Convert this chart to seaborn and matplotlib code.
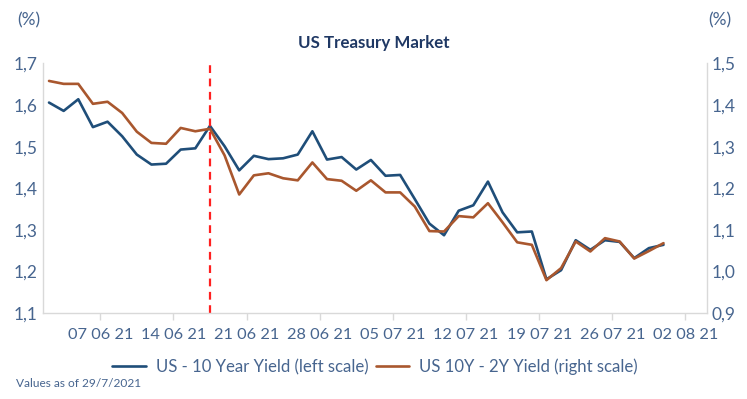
import matplotlib
matplotlib.use("Agg")
import matplotlib.pyplot as plt
import seaborn as sns
import pandas as pd
from matplotlib.ticker import FuncFormatter, FixedLocator

# ---- data (business days 01/06/2021 .. 29/07/2021) ----
ten_year = [1.606, 1.586, 1.614, 1.547, 1.560, 1.525, 1.481, 1.457, 1.459, 1.493,
            1.496, 1.550, 1.501, 1.443, 1.478, 1.470, 1.472, 1.481, 1.537, 1.469,
            1.475, 1.445, 1.468, 1.430, 1.432, 1.374, 1.315, 1.287, 1.346, 1.359,
            1.416, 1.342, 1.294, 1.296, 1.181, 1.203, 1.275, 1.252, 1.275, 1.271,
            1.232, 1.256, 1.264]
spread_10y2y = [1.458, 1.451, 1.451, 1.403, 1.408, 1.381, 1.336, 1.309, 1.307, 1.345,
                1.337, 1.343, 1.279, 1.185, 1.231, 1.236, 1.224, 1.219, 1.262, 1.222,
                1.218, 1.194, 1.219, 1.190, 1.190, 1.156, 1.097, 1.096, 1.133, 1.130,
                1.164, 1.118, 1.070, 1.064, 0.979, 1.008, 1.072, 1.048, 1.080, 1.072,
                1.031, 1.049, 1.068]
week_labels = ["07 06 21", "14 06 21", "21 06 21", "28 06 21", "05 07 21",
               "12 07 21", "19 07 21", "26 07 21", "02 08 21"]
fomc_index = 11  # 16/06/2021

label_10y = "US - 10 Year Yield (left scale)"
label_spread = "US 10Y - 2Y Yield (right scale)"

df = pd.DataFrame({"day": range(len(ten_year)),
                   "ten": ten_year, "spread": spread_10y2y})

# ---- style ----
sns.set_theme(style="white")
plt.rcParams["font.family"] = ["Lato", "DejaVu Sans"]

blue = "#1F4E79"
brown = "#A9572E"
tick_col = "#47658F"
spine_col = "#D9D9D9"

fig = plt.figure(figsize=(7.47, 3.99), dpi=100)
ax = fig.add_axes([0.0572, 0.2155, 0.8888, 0.6254])
ax2 = ax.twinx()

sns.lineplot(data=df, x="day", y="ten", ax=ax, color=blue, linewidth=1.9,
             label=label_10y, legend=False)
sns.lineplot(data=df, x="day", y="spread", ax=ax2, color=brown, linewidth=1.9,
             label=label_spread, legend=False)

ax.axvline(fomc_index, color="#FF2020", linestyle=(0, (3.5, 2.5)), linewidth=1.6)

ax.set_xlim(-0.43, 44.95)
ax.set_ylim(1.1, 1.7)
ax2.set_ylim(0.9, 1.5)

comma = FuncFormatter(lambda v, p: f"{v:.1f}".replace(".", ","))
ax.yaxis.set_major_locator(FixedLocator([1.1, 1.2, 1.3, 1.4, 1.5, 1.6, 1.7]))
ax2.yaxis.set_major_locator(FixedLocator([0.9, 1.0, 1.1, 1.2, 1.3, 1.4, 1.5]))
ax.yaxis.set_major_formatter(comma)
ax2.yaxis.set_major_formatter(comma)

xt = [3.5 + 5 * k for k in range(len(week_labels))]
ax.set_xticks(xt)
ax.set_xticklabels(week_labels)

for a in (ax, ax2):
    a.set_xlabel("")
    a.set_ylabel("")
    for s in a.spines.values():
        s.set_color(spine_col)
        s.set_linewidth(1.0)
    a.spines["top"].set_visible(False)
    a.tick_params(axis="y", length=0, labelsize=12.5, labelcolor=tick_col, pad=4)
ax.spines["right"].set_visible(False)
ax2.spines["left"].set_visible(False)
ax2.spines["bottom"].set_visible(False)
ax.tick_params(axis="x", bottom=True, length=5, width=1, color=spine_col,
               labelsize=11.8, labelcolor=tick_col, pad=6)
ax2.tick_params(axis="y", pad=3.5)

fig.text(0.039, 0.948, "(%)", ha="center", va="center", fontsize=12.5, color=tick_col)
fig.text(0.963, 0.948, "(%)", ha="center", va="center", fontsize=12.5, color=tick_col)
fig.text(0.501, 0.893, "US Treasury Market", ha="center", va="center",
         fontsize=12.2, fontweight="bold", color="#1F3864")

h1, l1 = ax.get_legend_handles_labels()
h2, l2 = ax2.get_legend_handles_labels()
fig.legend(h1 + h2, l1 + l2, loc="center", bbox_to_anchor=(0.502, 0.08), ncol=2,
           frameon=False, fontsize=12.1, labelcolor=tick_col, handlelength=2.0,
           handletextpad=0.6, columnspacing=0.45)

fig.text(0.022, 0.04, "Values as of 29/7/2021", ha="left", va="center",
         fontsize=8.6, color=tick_col)

fig.savefig("out.png", dpi=100)
